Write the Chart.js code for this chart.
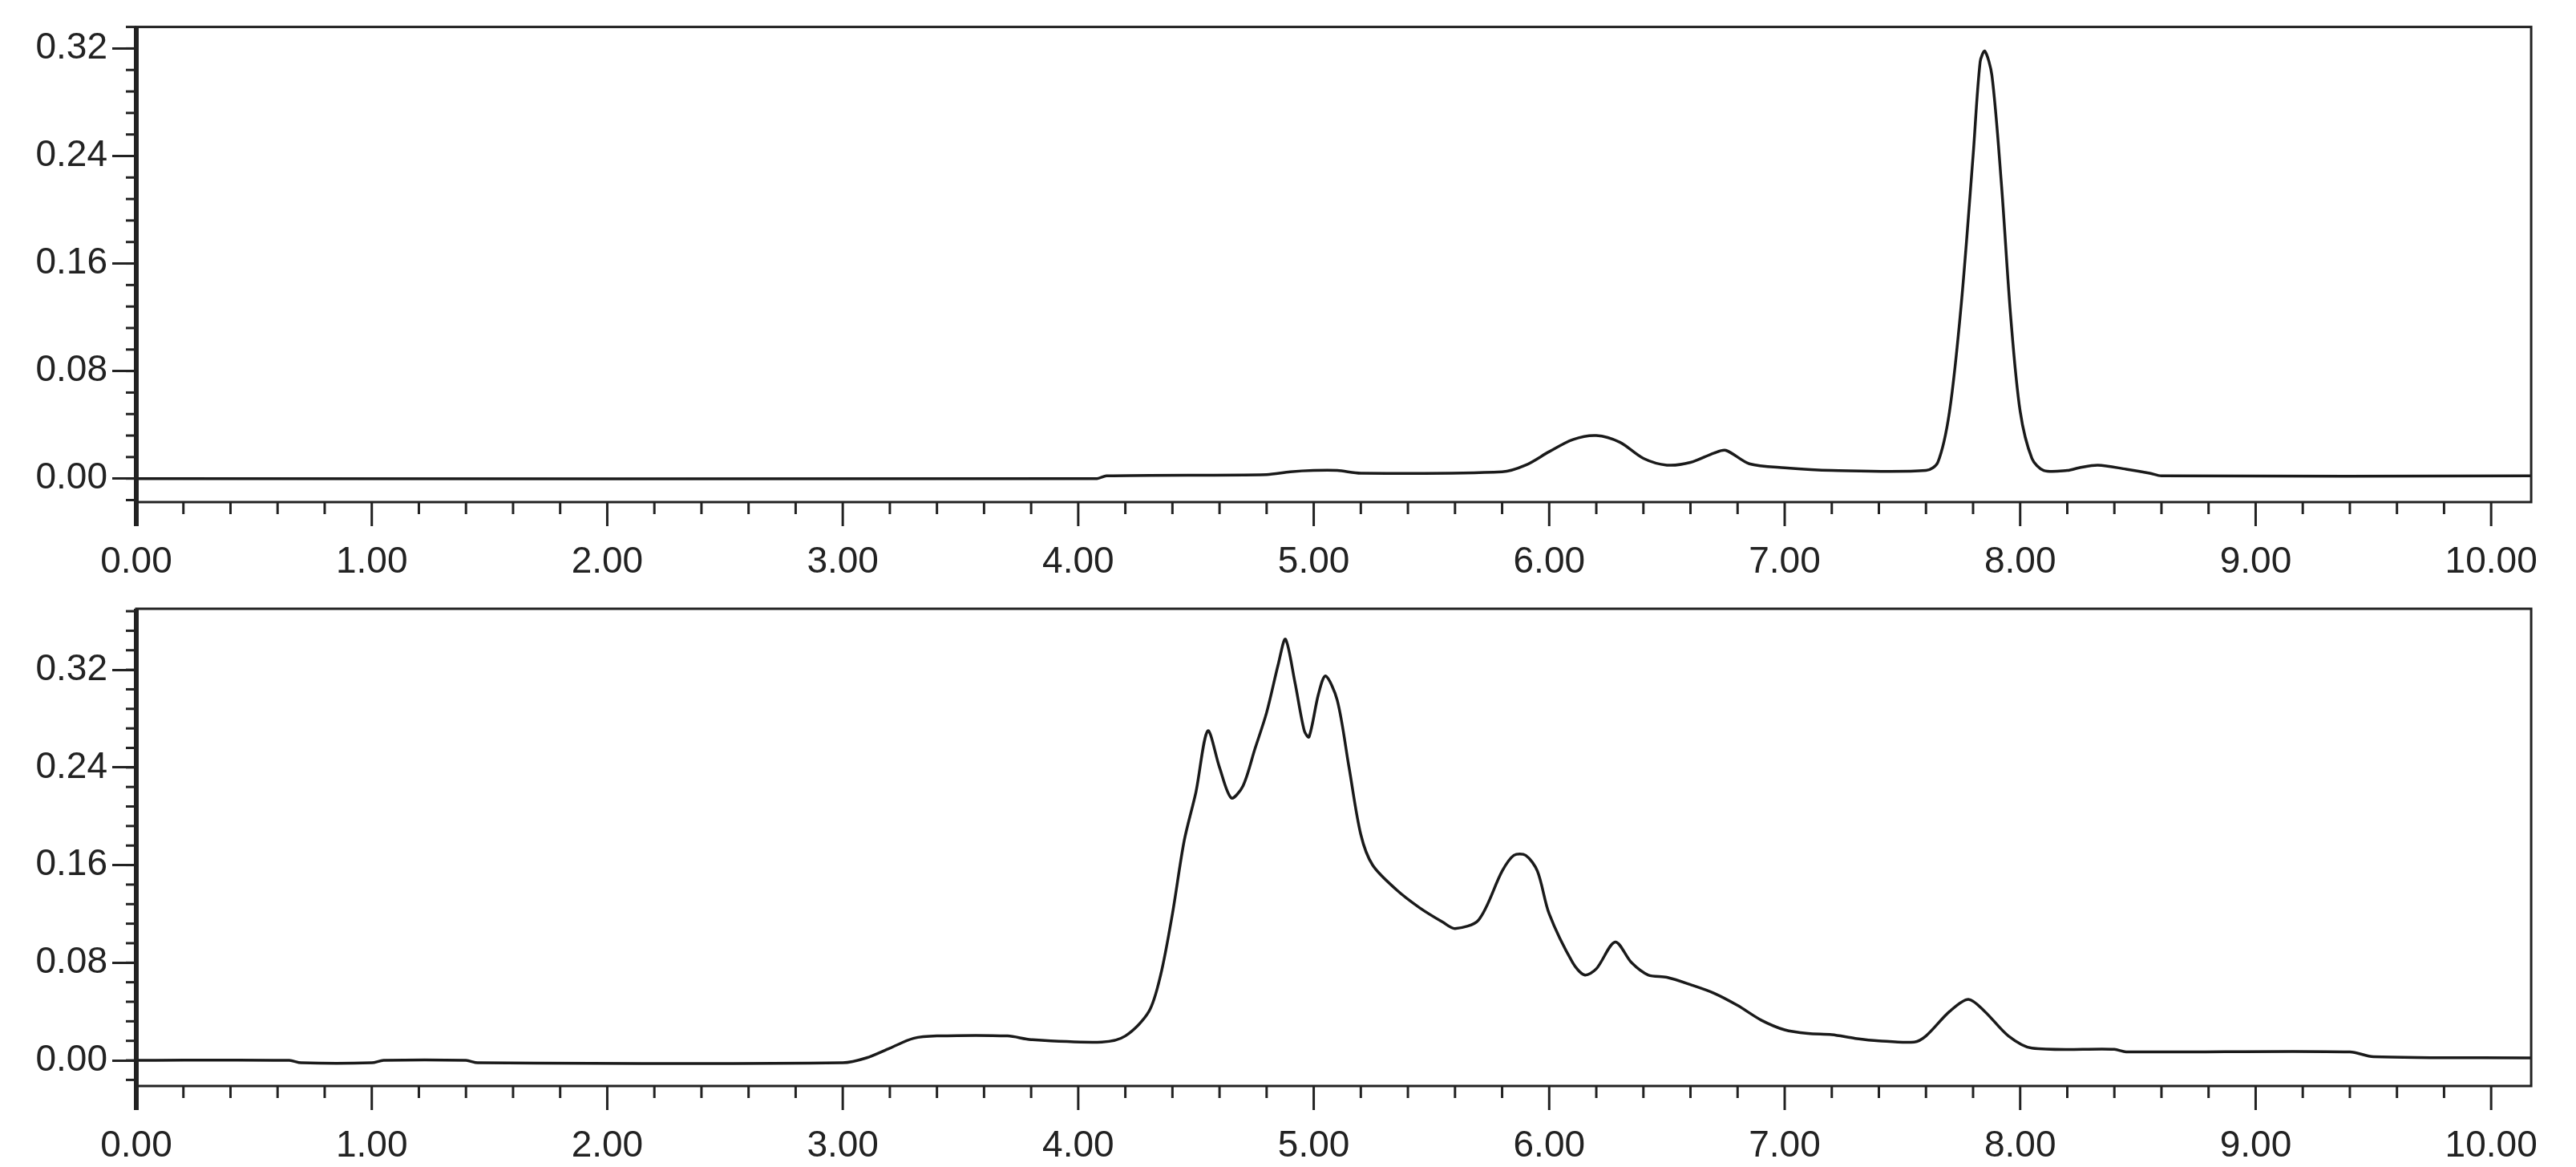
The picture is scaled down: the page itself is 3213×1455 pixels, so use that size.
<!DOCTYPE html>
<html><head><meta charset="utf-8">
<script src="https://cdn.jsdelivr.net/npm/chart.js@4"></script>
<style>html,body{margin:0;padding:0;background:#fff;}#a,#b{position:absolute;left:0;width:3213px;}#a{top:0;height:720px;}#b{top:720px;height:735px;}</style>
</head><body>
<div id="a"><canvas id="ca"></canvas></div>
<div id="b"><canvas id="cb"></canvas></div>
<script>
const xTickLabels = [0,1,2,3,4,5,6,7,8,9,10];
const yTickLabels = [0,0.08,0.16,0.24,0.32];
const topTime = [0,4.08,4.12,4.8,4.9,5.0,5.1,5.2,5.8,5.9,6.0,6.1,6.2,6.3,6.4,6.5,6.6,6.7,6.75,6.85,7.0,7.2,7.6,7.65,7.7,7.75,7.8,7.83,7.85,7.88,7.92,7.96,8.0,8.05,8.1,8.2,8.25,8.33,8.45,8.55,8.6,10.17];
const topSignal = [0,0,0.002,0.003,0.005,0.006,0.006,0.004,0.005,0.01,0.02,0.029,0.032,0.027,0.015,0.01,0.012,0.019,0.021,0.011,0.008,0.006,0.006,0.012,0.05,0.13,0.24,0.31,0.318,0.30,0.22,0.12,0.05,0.015,0.006,0.006,0.008,0.010,0.007,0.004,0.002,0.002];
const botTime = [0,0.65,0.7,1.0,1.05,1.4,1.45,3.0,3.1,3.2,3.3,3.4,3.7,3.8,4.1,4.2,4.3,4.35,4.4,4.45,4.5,4.55,4.6,4.65,4.7,4.75,4.8,4.85,4.88,4.92,4.96,4.98,5.02,5.05,5.1,5.15,5.2,5.25,5.35,5.45,5.55,5.6,5.7,5.8,5.85,5.9,5.95,6.0,6.1,6.15,6.2,6.28,6.35,6.42,6.5,6.6,6.7,6.8,6.9,7.0,7.1,7.2,7.3,7.4,7.55,7.6,7.7,7.78,7.85,7.95,8.05,8.4,8.45,9.4,9.5,10.17];
const botSignal = [0,0,-0.002,-0.002,0,0,-0.002,-0.002,0.002,0.01,0.018,0.02,0.02,0.017,0.015,0.02,0.04,0.07,0.12,0.18,0.22,0.27,0.24,0.215,0.225,0.255,0.285,0.325,0.345,0.31,0.27,0.265,0.30,0.315,0.295,0.24,0.185,0.16,0.14,0.125,0.113,0.108,0.115,0.155,0.168,0.168,0.155,0.12,0.08,0.07,0.075,0.097,0.08,0.07,0.068,0.062,0.055,0.045,0.033,0.025,0.022,0.021,0.018,0.016,0.015,0.02,0.04,0.05,0.04,0.02,0.01,0.009,0.007,0.007,0.003,0.002];

const FONT = {family:'"Liberation Sans", Arial, sans-serif', size:46};
const frame = {
  id:'frame',
  afterDraw(c){
    const {ctx, chartArea:a, scales} = c;
    ctx.save();
    ctx.strokeStyle='#222'; ctx.lineWidth=3;
    ctx.strokeRect(a.left, a.top, a.right-a.left, a.bottom-a.top);
    ctx.lineWidth=6; ctx.beginPath(); ctx.moveTo(a.left,a.top); ctx.lineTo(a.left,a.bottom+30); ctx.stroke();
    ctx.lineWidth=3;
    // minor ticks
    const ys = scales.y;
    for(let i=Math.ceil(ys.min/0.016); i*0.016<=ys.max; i++){
      const v=i*0.016; const p=ys.getPixelForValue(v);
      ctx.beginPath(); ctx.moveTo(a.left-13,p); ctx.lineTo(a.left,p); ctx.stroke();
    }
    const xs = scales.x;
    for(let i=0; i*0.2<=xs.max; i++){
      const p=xs.getPixelForValue(i*0.2);
      ctx.beginPath(); ctx.moveTo(p,a.bottom); ctx.lineTo(p,a.bottom+(i%5===0?30:15)); ctx.stroke();
    }
    ctx.restore();
  }
};
function make(id, xs, ys, yMin, yMax, padTop, xH){
  new Chart(document.getElementById(id), {
    type:'line',
    data:{datasets:[{data:xs.map((x,i)=>({x, y:ys[i]})), borderColor:'#1a1a1a', borderWidth:3.5, pointRadius:0, tension:0.3, fill:false}]},
    options:{
      responsive:true, maintainAspectRatio:false, animation:false,
      layout:{padding:{top:padTop, right:17, left:0, bottom:0}},
      plugins:{legend:{display:false}, tooltip:{enabled:false}},
      scales:{
        x:{type:'linear', min:0, max:10.17,
          afterBuildTicks:s=>{s.ticks=xTickLabels.map(v=>({value:v}));},
          afterFit:s=>{s.height=xH;},
          grid:{display:false, drawTicks:false}, border:{display:false},
          ticks:{padding:48, color:'#222', font:FONT, maxRotation:0, callback:v=>v.toFixed(2)}},
        y:{min:yMin, max:yMax,
          afterBuildTicks:s=>{s.ticks=yTickLabels.map(v=>({value:v}));},
          afterFit:s=>{s.width=170;},
          grid:{drawOnChartArea:false, tickLength:30, tickWidth:3, color:'#222'}, border:{display:false},
          ticks:{padding:6, color:'#222', font:FONT, callback:v=>v.toFixed(2)}}
      }
    },
    plugins:[frame]
  });
}
make('ca', topTime, topSignal, -0.0175, 0.336, 20, 94);
make('cb', botTime, botSignal, -0.021, 0.37, 39, 101);
</script>
</body></html>
